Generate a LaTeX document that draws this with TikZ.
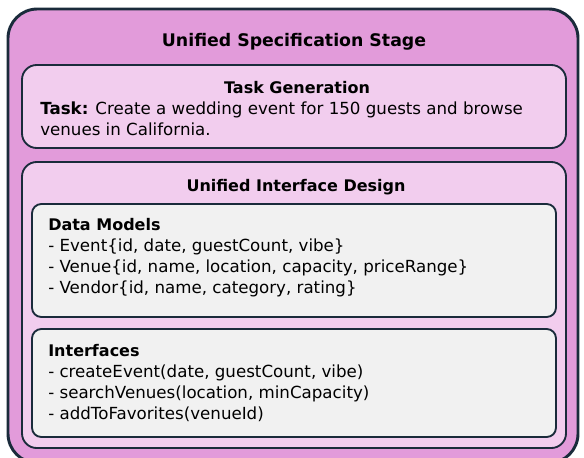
\documentclass[tikz,border=0pt]{standalone}
\usepackage{fontspec}
\setmainfont{DejaVu Sans}
\usetikzlibrary{positioning}

\definecolor{stagepink}{HTML}{E29BDA}
\definecolor{panelpink}{HTML}{F2CDEE}
\definecolor{cardgray}{HTML}{F1F1F1}
\definecolor{edgeblue}{HTML}{1A2B3B}

\tikzset{
	stage/.style={draw=edgeblue, fill=stagepink, line width=2.2pt, rounded corners=22pt},
	panel/.style={draw=edgeblue, fill=panelpink, line width=1.4pt, rounded corners=11pt},
	card/.style={draw=edgeblue, fill=cardgray, line width=1.4pt, rounded corners=7pt},
	heading/.style={font=\fontsize{12}{14}\selectfont\bfseries, inner sep=0pt},
	line/.style={font=\fontsize{12.5}{15}\selectfont, anchor=base west, inner sep=0pt},
}

\begin{document}
\begin{tikzpicture}[x=0.75pt, y=-0.75pt]
	\useasboundingbox (0,0) rectangle (584,457);
	\fill[white] (0,0) rectangle (584,457);
	\clip (0,0) rectangle (584,457);

	% outer stage and its two panels
	\draw[stage] (8,9) rectangle (578,463);
	\draw[panel] (22,65) rectangle (566,148);
	\draw[panel] (22,162) rectangle (566,448);
	\draw[card] (32,204) rectangle (556,317);
	\draw[card] (32,329) rectangle (556,437);

	\node[heading, font=\fontsize{13}{15}\selectfont\bfseries, anchor=base] (stage) at (294,46) {Unified Specification Stage};

	% task generation
	\node[heading, anchor=base] (taskgen) at (297,93) {Task Generation};
	\node[line] (task1) at (40,114) {\textbf{Task:} Create a wedding event for 150 guests and browse};
	\node[line] (task2) at (40,135) {venues in California.};

	% interface design
	\node[heading, anchor=base] (design) at (296,191) {Unified Interface Design};

	\node[heading, anchor=base west] (models) at (48,230) {Data Models};
	\node[line] (event) at (48,251) {- Event\{id, date, guestCount, vibe\}};
	\node[line] (venue) at (48,272) {- Venue\{id, name, location, capacity, priceRange\}};
	\node[line] (vendor) at (48,293) {- Vendor\{id, name, category, rating\}};

	\node[heading, anchor=base west] (interfaces) at (48,356) {Interfaces};
	\node[line] (create) at (48,377) {- createEvent(date, guestCount, vibe)};
	\node[line] (search) at (48,398) {- searchVenues(location, minCapacity)};
	\node[line] (favor) at (48,419) {- addToFavorites(venueId)};
\end{tikzpicture}
\end{document}
